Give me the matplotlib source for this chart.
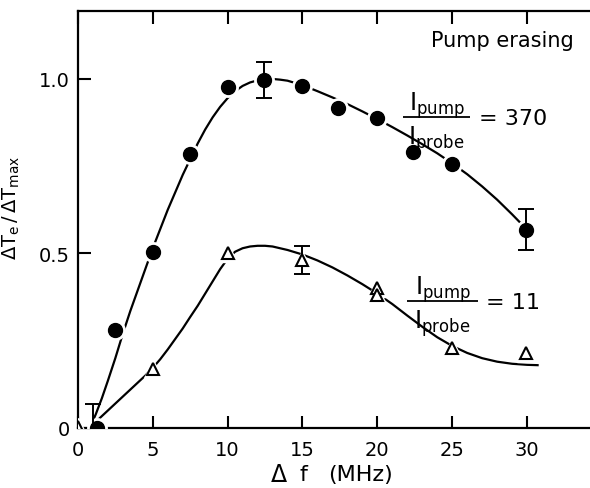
import matplotlib

matplotlib.use("Agg")
import matplotlib.pyplot as plt

plt.rcParams["font.family"] = ["DejaVu Sans"]
plt.rcParams["mathtext.default"] = "regular"

INK = "black"

# ---- data -----------------------------------------------------------------
# I_pump / I_probe = 370  (filled circles)
hi_x = [1.3, 2.5, 5.0, 7.5, 10.0, 12.4, 15.0, 17.4, 20.0, 22.4, 25.0, 29.9]
hi_y = [0.0, 0.28, 0.505, 0.785, 0.977, 0.997, 0.98, 0.917, 0.888, 0.79, 0.756, 0.568]
hi_err_x = [12.4, 29.9]
hi_err_y = [0.997, 0.568]
hi_err = [0.052, 0.058]

# hand-drawn fit through the circles (traced)
hi_fit_x = [0.8, 1.2, 1.6, 2.0, 2.5, 3.0, 3.5, 4.0, 4.5, 5.0, 5.5, 6.0, 6.5, 7.0,
            7.5, 8.0, 8.5, 9.0, 9.5, 10.0, 10.5, 11.0, 11.5, 12.0, 12.5, 13.0,
            13.5, 14.0, 15.0, 16.0, 17.0, 18.0, 19.0, 20.0, 21.0, 22.0, 23.0,
            24.0, 25.0, 26.0, 27.0, 28.0, 29.0, 29.5]
hi_fit_y = [0.0, 0.04, 0.085, 0.135, 0.20, 0.27, 0.335, 0.395, 0.455, 0.515,
            0.57, 0.625, 0.675, 0.725, 0.77, 0.815, 0.855, 0.89, 0.92, 0.945,
            0.965, 0.98, 0.99, 0.996, 0.999, 1.0, 0.998, 0.995, 0.982, 0.965,
            0.947, 0.928, 0.907, 0.885, 0.862, 0.838, 0.813, 0.787, 0.758,
            0.727, 0.692, 0.654, 0.612, 0.59]

# I_pump / I_probe = 11  (open triangles)
lo_x = [0.0, 5.0, 10.0, 15.0, 20.0, 20.0, 25.0, 29.9]
lo_y = [0.003, 0.17, 0.50, 0.48, 0.40, 0.38, 0.23, 0.215]
lo_err_x = [1.0, 15.0]
lo_err_y = [0.03, 0.48]
lo_err = [0.038, 0.04]

lo_fit_x = [0.8, 1.5, 2.0, 2.5, 3.0, 3.5, 4.0, 4.5, 5.0, 5.5, 6.0, 6.5, 7.0,
            7.5, 8.0, 8.5, 9.0, 9.5, 10.0, 10.5, 11.0, 11.5, 12.0, 12.5, 13.0,
            14.0, 15.0, 16.0, 17.0, 18.0, 19.0, 20.0, 21.0, 22.0, 23.0, 24.0,
            25.0, 26.0, 27.0, 28.0, 29.0, 30.0, 30.7]
lo_fit_y = [0.0, 0.03, 0.05, 0.07, 0.09, 0.11, 0.13, 0.15, 0.172, 0.197, 0.225,
            0.255, 0.285, 0.318, 0.35, 0.385, 0.42, 0.455, 0.485, 0.505, 0.515,
            0.52, 0.522, 0.522, 0.52, 0.51, 0.497, 0.48, 0.46, 0.437, 0.412,
            0.385, 0.355, 0.322, 0.29, 0.26, 0.235, 0.215, 0.2, 0.19, 0.184,
            0.181, 0.18]

x_ticks = [0, 5, 10, 15, 20, 25, 30]
y_ticks = [0, 0.5, 1.0]
y_ticklabels = ["0", "0.5", "1.0"]

# ---- figure ----------------------------------------------------------------
fig = plt.figure(figsize=(5.9, 4.89), dpi=100)
ax = fig.add_axes([0.132, 0.1227, 0.868, 0.853])
ax.set_xlim(0, 34.2)
ax.set_ylim(0, 1.195)

# fitted curves
ax.plot(hi_fit_x, hi_fit_y, color=INK, lw=1.6, zorder=2)
ax.plot(lo_fit_x, lo_fit_y, color=INK, lw=1.6, zorder=2)

# white halos give the small gaps where the curves meet the markers
ax.plot(hi_x, hi_y, "o", ms=14, color="white", mec="white", zorder=3)
ax.plot(lo_x, lo_y, "^", ms=13, color="white", mec="white", zorder=3)

ax.plot(hi_x, hi_y, "o", ms=10, color=INK, zorder=5)
ax.plot(lo_x, lo_y, "^", ms=8.5, mfc="white", mec=INK, mew=1.5, zorder=5)

ax.errorbar(hi_err_x, hi_err_y, yerr=hi_err, fmt="none", ecolor=INK,
            elinewidth=1.4, capsize=6, capthick=1.4, zorder=4)
ax.errorbar(lo_err_x, lo_err_y, yerr=lo_err, fmt="none", ecolor=INK,
            elinewidth=1.4, capsize=6, capthick=1.4, zorder=4)

# ---- axes styling ------------------------------------------------------------
for side in ("left", "bottom", "top"):
    ax.spines[side].set_linewidth(1.6)
ax.spines["right"].set_visible(False)

ax.set_xticks(x_ticks)
ax.set_yticks(y_ticks)
ax.set_yticklabels(y_ticklabels)
ax.tick_params(axis="both", direction="in", length=9, width=1.5,
               labelsize=14, top=True, right=False)
ax.tick_params(axis="x", pad=9)
ax.tick_params(axis="y", pad=6)

# x label: large delta, then "f  (MHz)"
ylab = 1 - 475 / 489
fig.text(271 / 590, ylab, "Δ", fontsize=17, ha="left", va="center")
fig.text(300 / 590, ylab, "f", fontsize=16, ha="left", va="center")
fig.text(328 / 590, ylab, "(MHz)", fontsize=16, ha="left", va="center")

ax.set_ylabel(r"$\Delta T_e\,/\,\Delta T_{max}$", fontsize=14)
ax.yaxis.set_label_coords(-0.109, 0.53)

# ---- annotations -------------------------------------------------------------
ax.text(0.968, 0.93, "Pump erasing", transform=ax.transAxes, ha="right",
        va="center", fontsize=15)


def ratio(x0, x1, y, rhs):
    xc = (x0 + x1) / 2
    ax.plot([x0, x1], [y, y], color=INK, lw=1.3, solid_capstyle="butt")
    ax.annotate(r"$I_{pump}$", (xc, y), xytext=(0, 5), textcoords="offset points",
                ha="center", va="baseline", fontsize=17)
    ax.annotate(r"$I_{probe}$", (xc, y), xytext=(0, -19), textcoords="offset points",
                ha="center", va="baseline", fontsize=17)
    ax.annotate(rhs, (x1, y), xytext=(6, -1), textcoords="offset points",
                ha="left", va="center", fontsize=16)


ratio(21.7, 26.2, 0.891, "= 370")
ratio(22.0, 26.7, 0.364, "= 11")

fig.savefig("out.png", dpi=100, facecolor="white")
